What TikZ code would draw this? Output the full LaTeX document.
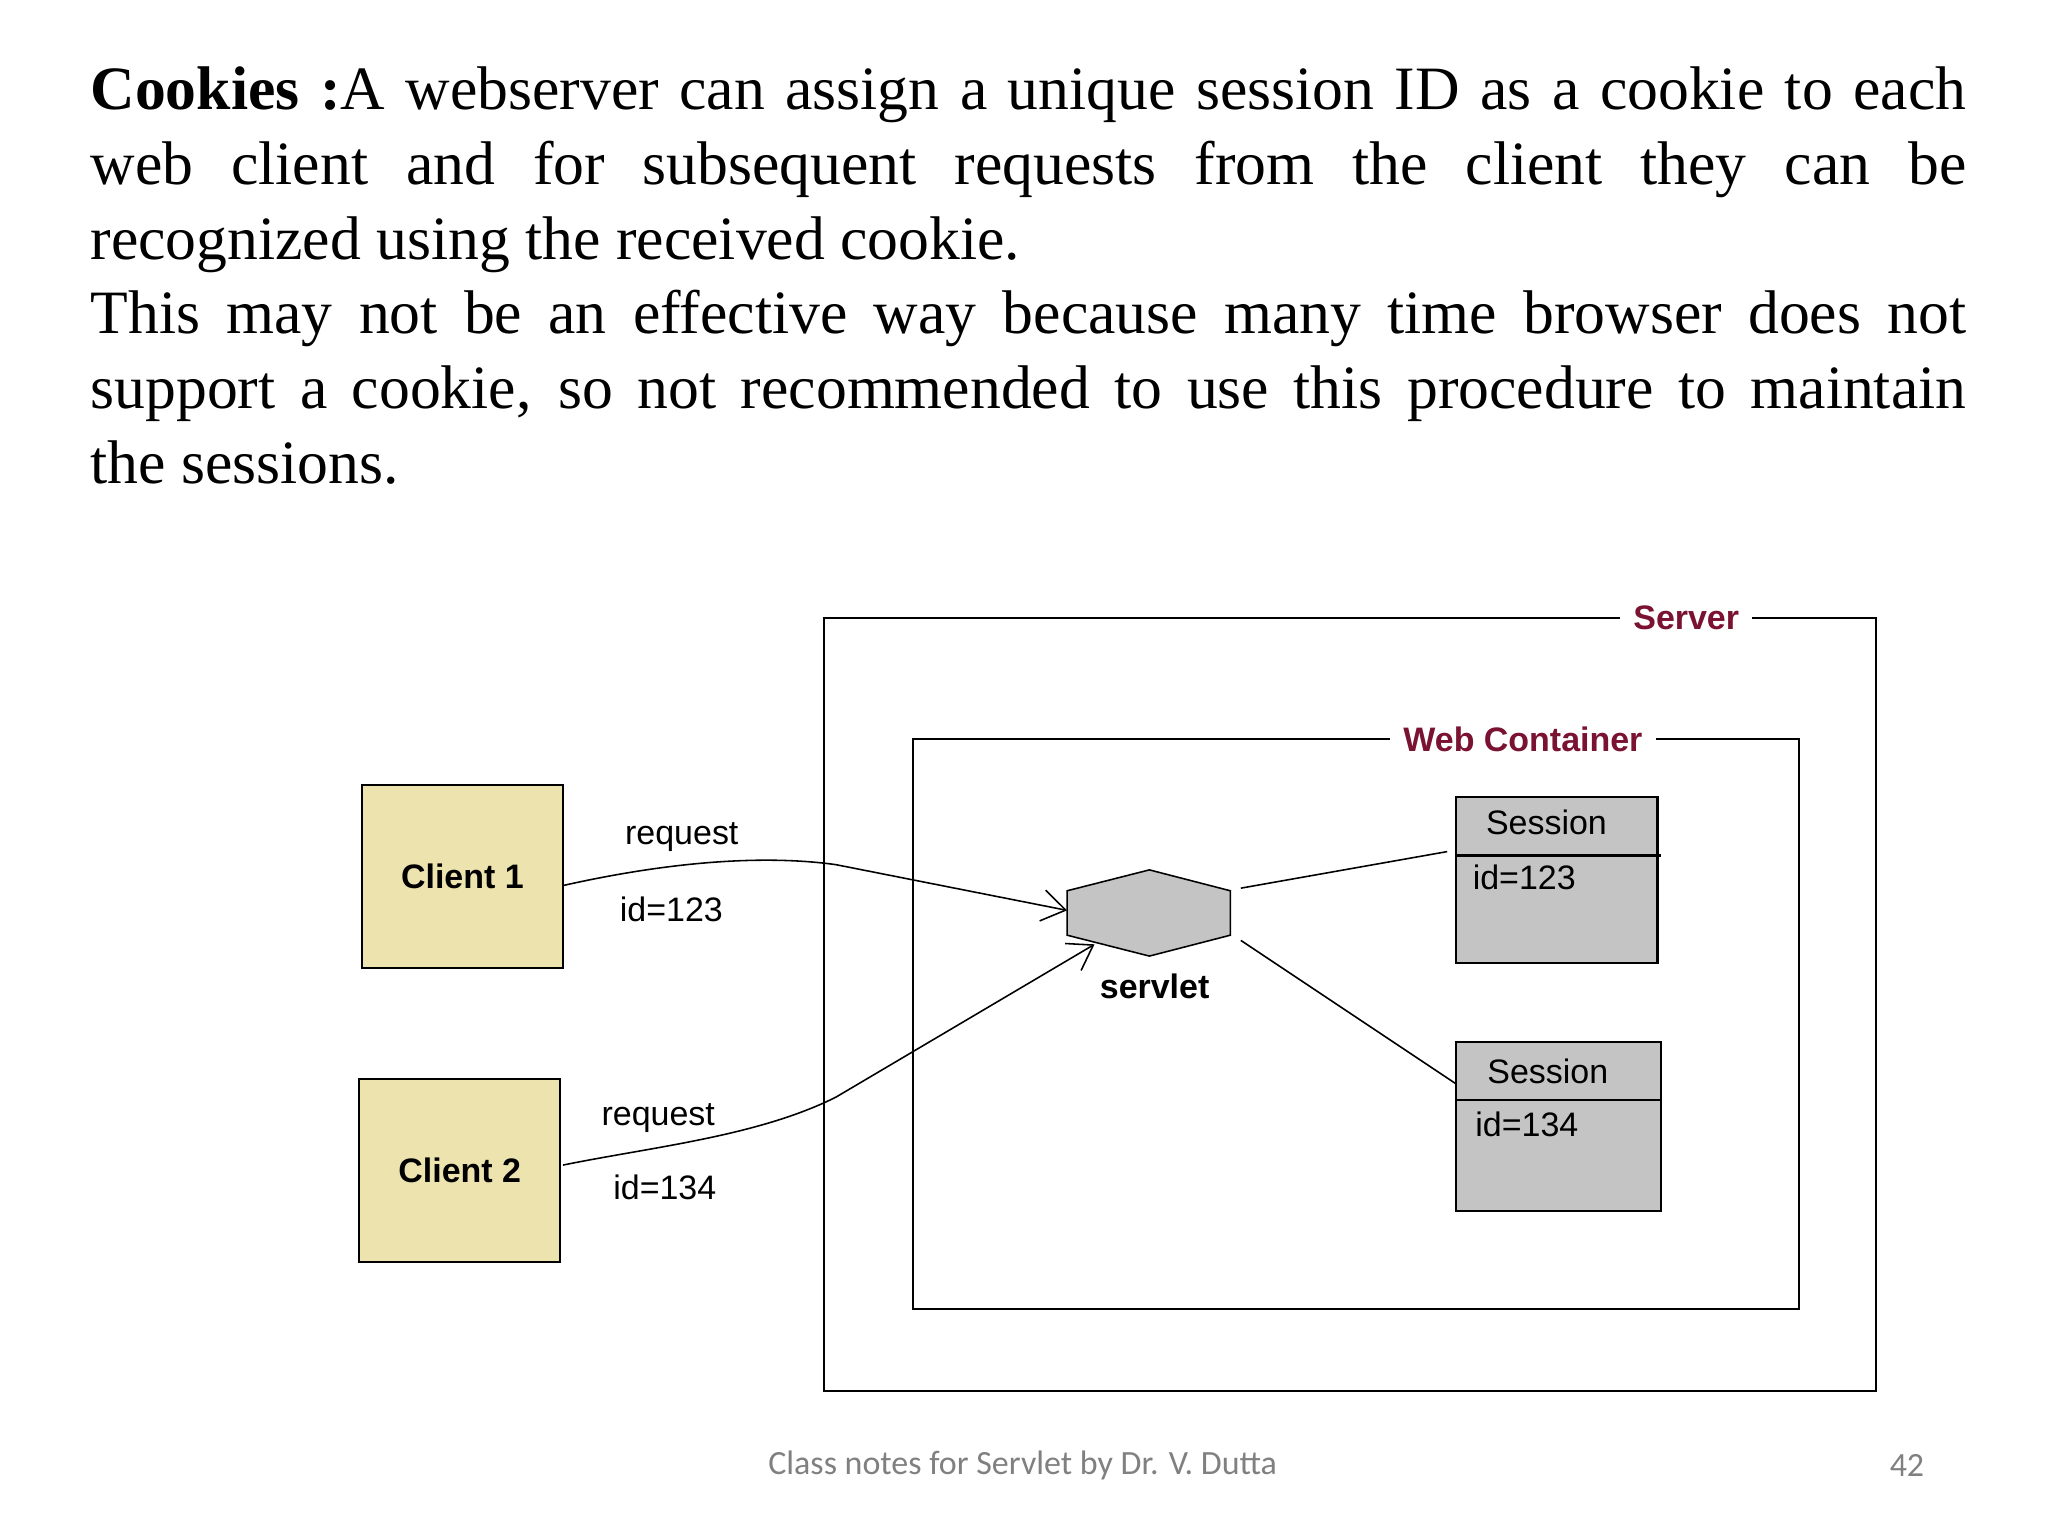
\documentclass[tikz,border=0pt]{standalone}
\usepackage{fontspec}
\setmainfont{Liberation Serif}
\newfontfamily\dsans{Liberation Sans}
\newfontfamily\fsans{Carlito}
\usetikzlibrary{arrows.meta}
\definecolor{tan}{HTML}{EDE3AE}
\definecolor{lbl}{HTML}{7A1232}
\definecolor{gr}{HTML}{C4C4C4}
\begin{document}
\begin{tikzpicture}[x=0.5pt,y=-0.5pt,
  box/.style={draw,line width=0.8pt},
  dt/.style={font=\dsans\fontsize{13}{15}\selectfont,inner sep=1pt},
  bt/.style={font=\dsans\bfseries\fontsize{13}{15}\selectfont,inner sep=1pt},
  lab/.style={font=\dsans\bfseries\fontsize{13}{15}\selectfont,text=lbl,fill=white,inner sep=5pt},
  con/.style={line width=0.6pt}]
\useasboundingbox (0,0) rectangle (1568,1176);
\node[anchor=base west,inner sep=0pt] (para) at (69,84) {\parbox[t]{718pt}{\fontsize{23.6}{28.6}\selectfont\hyphenpenalty=10000\exhyphenpenalty=10000\emergencystretch=50pt\textbf{Cookies :}A webserver can assign a unique session ID as a cookie to each\linebreak web client and for subsequent requests from the client they can be\linebreak recognized using the received cookie.\par This may not be an effective way because many time browser does not\linebreak support a cookie, so not recommended to use this procedure to maintain\linebreak the sessions.}};
% server
\draw[box] (631,473) rectangle (1436,1065);
\node[lab] (srv) at (1291,473) {Server};
\draw[box] (699,566) rectangle (1377,1002);
\node[lab] (wc) at (1166,566) {Web Container};
% clients
\node[box,fill=tan,minimum width=77pt,minimum height=70pt,bt] (c1) at (354,671) {Client 1};
\node[box,fill=tan,minimum width=77pt,minimum height=70pt,bt] (c2) at (352,896) {Client 2};
% servlet
\draw[line width=0.6pt,fill=gr] (817,682) -- (880,666) -- (942,682) -- (942,716) -- (880,732) -- (817,716) -- cycle;
\coordinate (sl) at (817,697);
\coordinate (sb) at (838,723);
\node[bt] (sv) at (884,755) {servlet};
% sessions
\draw[box,fill=gr] (1115,610) rectangle (1269,737);
\draw[box] (1115,655) -- (1272,655);
\node[dt] (s1) at (1184,630) {Session};
\node[dt] (i1) at (1167,672) {id=123};
\draw[box,fill=gr] (1115,798) rectangle (1272,927);
\draw[box] (1115,842) -- (1272,842);
\node[dt] (s2) at (1185,820) {Session};
\node[dt] (i2) at (1169,861) {id=134};
% connectors
\coordinate (c1o) at (431,678);
\coordinate (c2o) at (431,892);
\draw[con,-{Straight Barb[length=9pt,width=12pt]}] (c1o) .. controls (520,658) and (590,655) .. (640,662) -- (sl);
\draw[con,-{Straight Barb[length=9pt,width=12pt]}] (c2o) .. controls (500,878) and (580,870) .. (640,840) -- (sb);
\coordinate (a1) at (950,680); \coordinate (b1) at (1108,652);
\coordinate (a2) at (950,720); \coordinate (b2) at (1115,830);
\draw[con] (a1) -- (b1);
\draw[con] (a2) -- (b2);
\node[dt] (r1) at (522,641) {request};
\node[dt] (d1) at (514,696) {id=123};
\node[dt] (r2) at (504,856) {request};
\node[dt] (d2) at (509,909) {id=134};
% footer
\node[font=\fsans\fontsize{13}{15}\selectfont,text=gray] (ft) at (783,1122) {Class notes for Servlet by Dr. V. Dutta};
\node[font=\fsans\fontsize{13}{15}\selectfont,text=gray] (pg) at (1460,1122) {42};
\end{tikzpicture}
\end{document}
